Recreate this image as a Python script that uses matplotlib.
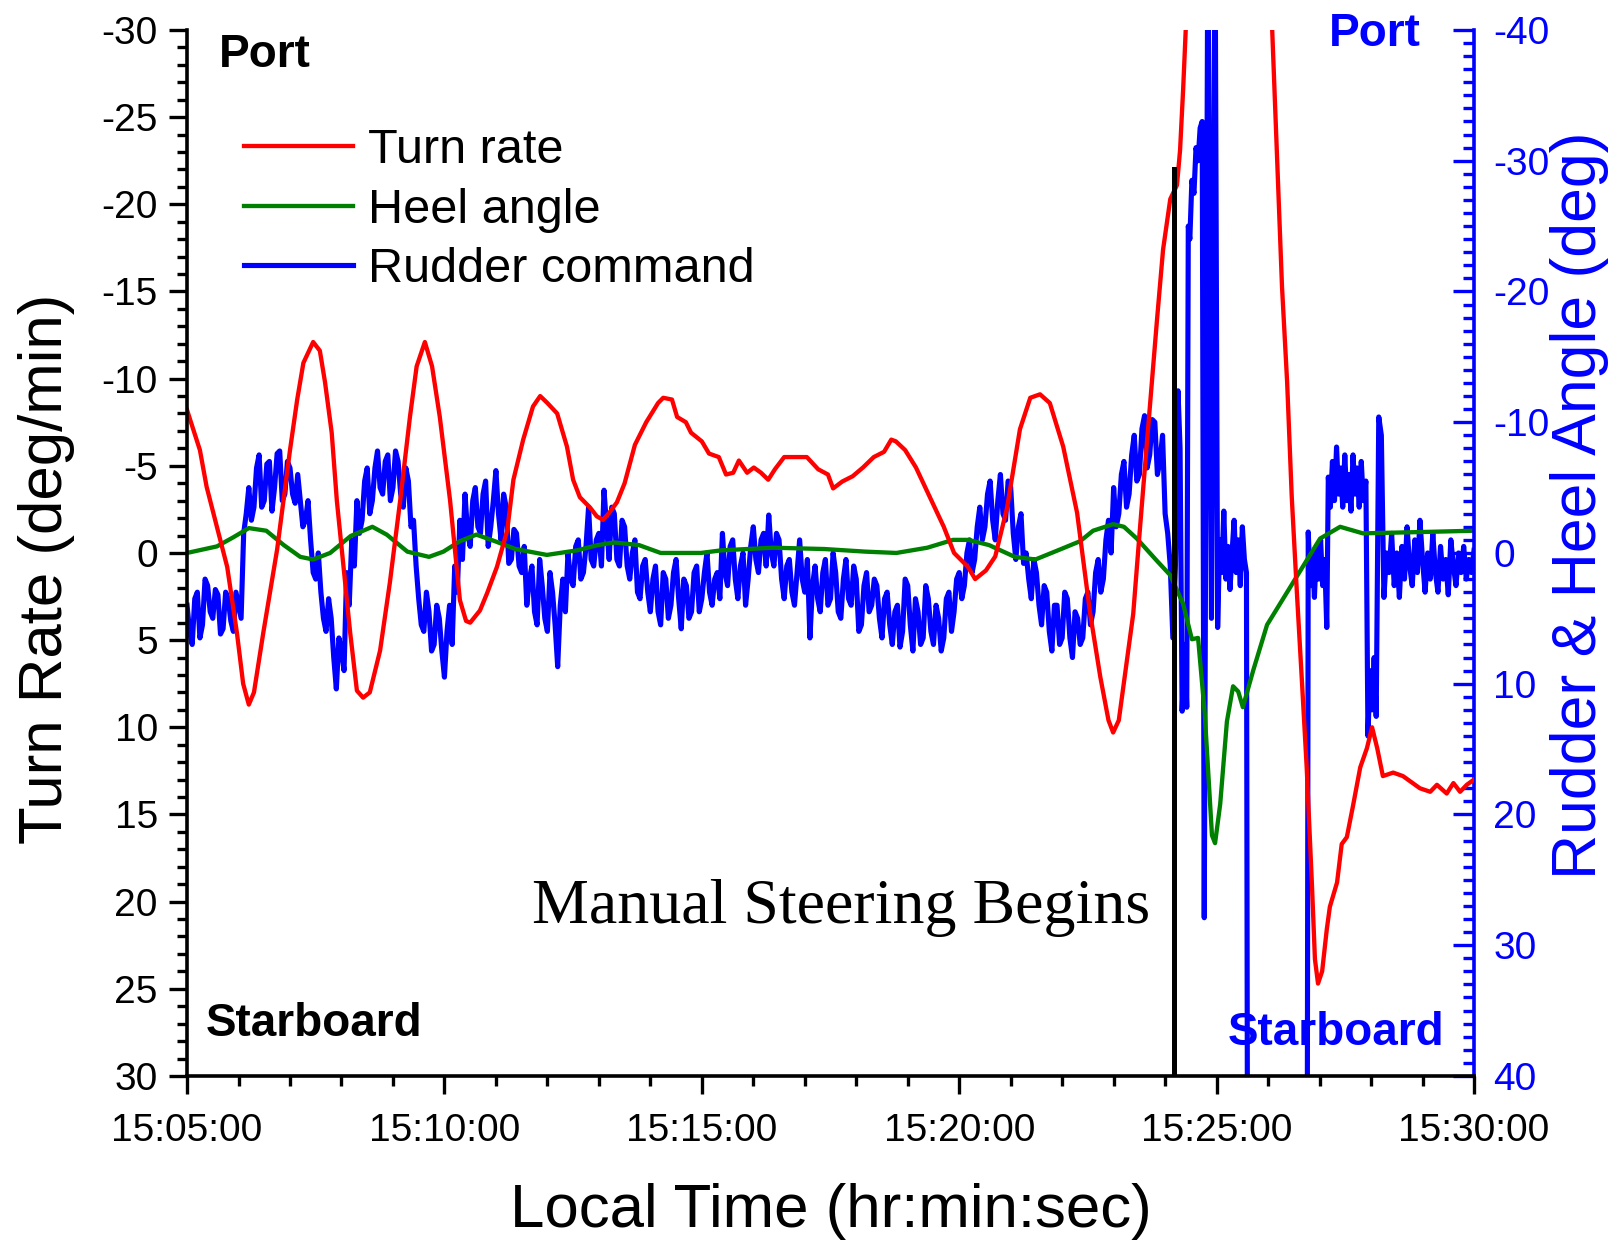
import numpy as np
import matplotlib
matplotlib.use("Agg")
import matplotlib.pyplot as plt
from matplotlib.ticker import MultipleLocator

plt.rcParams["font.family"] = "Liberation Sans"
plt.rcParams["axes.unicode_minus"] = False

# times are minutes after 15:05:00
turn_t = [0.0, 0.25, 0.38, 0.58, 0.78, 0.97, 1.09, 1.2, 1.3, 1.48, 1.75, 2.0, 2.14, 2.26,
          2.45, 2.58, 2.68, 2.81, 2.91, 3.04, 3.17, 3.3, 3.42, 3.55, 3.75, 3.94, 4.14,
          4.33, 4.46, 4.62, 4.76, 4.91, 5.11, 5.3, 5.42, 5.5, 5.69, 5.83, 6.02, 6.22,
          6.34, 6.53, 6.72, 6.86, 7.0, 7.19, 7.38, 7.5, 7.63, 7.83, 7.96, 8.08, 8.2,
          8.35, 8.5, 8.7, 8.92, 9.15, 9.25, 9.42, 9.52, 9.69, 9.79, 10.0, 10.14, 10.33,
          10.47, 10.61, 10.72, 10.88, 11.01, 11.15, 11.29, 11.42, 11.6, 11.83, 12.04,
          12.26, 12.45, 12.55, 12.73, 12.93, 13.13, 13.34, 13.54, 13.68, 13.77, 13.95,
          14.16, 14.43, 14.7, 14.9, 15.17, 15.31, 15.52, 15.7, 15.93, 16.18, 16.38,
          16.57, 16.76, 17.02, 17.29, 17.54, 17.74, 17.9, 17.99, 18.1, 18.22, 18.38,
          18.5, 18.64, 18.84, 18.96, 19.1, 19.23, 19.29, 19.35, 19.4, 19.6, 20.2, 20.8,
          21.08, 21.17, 21.27, 21.37, 21.46, 21.56, 21.66, 21.75, 21.85, 21.91, 21.97,
          22.05, 22.14, 22.2, 22.34, 22.43, 22.53, 22.65, 22.79, 22.92, 23.02, 23.12,
          23.23, 23.43, 23.62, 23.76, 23.95, 24.15, 24.28, 24.47, 24.6, 24.73, 24.86, 25.0]
turn_rate = [-8.2, -5.9, -3.8, -1.5, 0.8, 4.6, 7.5, 8.7, 8.0, 4.6, -0.2, -5.9, -8.8, -10.9,
             -12.1, -11.6, -9.8, -6.9, -3.0, 0.8, 4.6, 7.9, 8.3, 8.0, 5.6, 1.7, -3.0,
             -7.8, -10.7, -12.1, -10.7, -7.8, -3.0, 2.7, 3.9, 4.0, 3.3, 2.3, 0.8, -1.3,
             -4.2, -6.5, -8.4, -9.0, -8.6, -8.0, -6.1, -4.2, -3.2, -2.6, -2.1, -1.9, -2.3,
             -2.9, -4.0, -6.2, -7.5, -8.6, -8.9, -8.8, -7.8, -7.5, -6.9, -6.4, -5.7, -5.5,
             -4.5, -4.6, -5.3, -4.6, -4.9, -4.6, -4.2, -4.8, -5.5, -5.5, -5.5,
             -4.8, -4.5, -3.7, -4.1, -4.4, -4.9, -5.5, -5.8, -6.5, -6.4, -5.9,
             -4.9, -3.2, -1.5, 0.0, 0.8, 1.5, 1.0, 0.2, -2.6, -7.1, -8.9,
             -9.1, -8.6, -6.1, -2.3, 3.4, 7.1, 9.6, 10.3, 9.6, 7.0, 3.5,
             -1.0, -6.1, -13.3, -17.4, -20.3, -21.1, -23.1, -26.6, -30.0, -40.0, -52.0, -42.0,
             -30.0, -23.0, -15.3, -9.8, -3.2, 2.3, 7.5, 12.3, 18.9, 23.3, 24.7,
             24.0, 21.6, 20.3, 18.9, 16.7, 16.3, 14.5, 12.3, 11.2, 10.0, 11.2,
             12.8, 12.6, 12.8, 13.1, 13.5, 13.7, 13.3, 13.8, 13.2, 13.7, 13.3, 13.0]

heel_t = [0.0, 0.58, 0.9, 1.2, 1.54, 1.88, 2.2, 2.45, 2.78, 3.18, 3.6, 3.88, 4.28, 4.7,
          4.98, 5.3, 5.62, 5.98, 6.38, 6.99, 7.58, 7.98, 8.3, 8.78, 9.2, 9.98, 10.38,
          11.38, 12.38, 13.18, 13.78, 14.38, 14.88, 15.18, 15.58, 16.08, 16.48, 16.98,
          17.35, 17.6, 17.99, 18.2, 18.45, 18.84, 19.1, 19.35, 19.52, 19.64, 19.77,
          19.91, 19.97, 20.07, 20.2, 20.32, 20.42, 20.51, 20.71, 20.98, 21.23, 21.62,
          22.01, 22.4, 22.84, 23.98, 25.0]
heel = [0.0, -0.5, -1.2, -1.9, -1.7, -0.6, 0.3, 0.5, 0.0, -1.3, -2.0, -1.4, -0.1, 0.3,
        -0.1, -0.9, -1.4, -0.9, -0.3, 0.15, -0.2, -0.6, -0.8, -0.6, 0.0, 0.0, -0.2,
        -0.4, -0.3, -0.1, 0.0, -0.4, -1.0, -1.0, -0.6, 0.3, 0.5, -0.3,
        -0.9, -1.7, -2.2, -2.0, -1.1, 0.6, 1.7, 3.9, 6.6, 6.5, 12.3,
        21.6, 22.2, 19.2, 12.9, 10.2, 10.6, 11.8, 9.0, 5.5, 3.9, 1.4,
        -1.1, -2.0, -1.5, -1.6, -1.7]

# rudder command under autopilot, one reading every 3 s (15:05:00 - 15:24:06)
rudder_auto = [
    4.0, 6.0, 7.0, 3.5, 3.0, 6.5, 5.5, 2.0, 2.5, 4.5, 5.0, 2.8, 3.2, 6.2, 5.8, 3.0,
    3.5, 5.2, 6.0, 3.0, 4.0, 5.0, -1.5, -3.0, -5.0, -2.5, -3.5, -6.5, -7.5, -3.5,
    -4.0, -6.8, -7.0, -3.2, -5.0, -7.6, -7.8, -4.0, -4.5, -7.0, -6.5, -4.5, -3.8, -6.0,
    -4.0, -2.0, -2.5, -4.0, -1.0, 1.5, 2.0, 0.0, 3.0, 5.0, 6.0, 3.5, 5.0, 8.0,
    10.4, 6.5, 7.5, 9.0, 1.5, 4.0, -1.0, 1.0, -4.0, -1.5, -2.5, -5.5, -6.5, -3.0,
    -4.0, -6.5, -7.8, -5.0, -4.5, -7.0, -7.5, -4.0, -5.0, -7.8, -7.0, -4.5, -3.5, -6.5,
    -5.5, -2.0, -2.5, 1.0, 3.5, 5.5, 6.0, 3.0, 4.5, 7.5, 7.0, 4.0, 5.0, 7.5,
    9.5, 6.0, 4.0, 7.0, 1.0, 3.0, -2.5, 0.5, -4.5, -1.5, -0.5, -4.0, -5.0, -2.0,
    -1.5, -4.5, -5.5, -0.5, -2.0, -4.0, -6.3, -3.0, -1.0, -4.5, -3.5, 0.8, 0.5, -1.8,
    -1.5, 1.0, 1.5, -0.5, 4.0, 2.0, 1.0, 4.5, 5.5, 0.5, 2.5, 5.0, 6.0, 1.5,
    3.0, 5.5, 8.7, 4.0, 2.0, 4.5, 0.0, 2.0, 2.5, -0.5, -1.0, 2.0, 1.5, -0.5,
    -3.5, 0.5, 1.0, -1.0, -1.5, 1.0, -4.8, -2.0, 0.5, -3.5, -3.0, 0.5, 1.0, -2.5,
    -2.0, 1.0, 2.0, 0.0, -1.0, 3.0, 3.5, 1.0, 0.5, 3.0, 4.5, 2.0, 1.0, 4.5,
    5.5, 1.5, 2.0, 5.0, 4.0, 1.5, 0.5, 3.5, 5.8, 2.0, 2.5, 5.0, 4.5, 1.5,
    1.0, 4.5, 3.5, 1.5, 0.0, 3.0, 4.0, 2.0, 1.5, 3.5, -1.5, 1.5, 2.5, -0.5,
    -1.0, 2.0, 3.5, 1.0, 0.0, 4.0, 2.0, -0.5, -2.0, 0.5, 1.5, -1.0, -1.5, 1.0,
    -2.9, 0.0, 1.0, -1.5, -1.0, 2.0, 3.5, 1.0, 0.5, 3.0, 4.0, 1.5, -1.0, 2.0,
    3.0, 0.5, 6.5, 2.5, 1.0, 3.5, 4.5, 1.5, 0.5, 4.0, 3.5, 0.0, 1.5, 4.5,
    5.0, 2.0, 0.5, 3.5, 4.0, 1.0, 2.0, 6.0, 5.5, 2.5, 1.5, 4.5, 4.0, 2.0,
    2.5, 5.0, 6.5, 3.5, 3.0, 5.5, 7.0, 4.5, 4.0, 7.2, 6.0, 2.0, 2.5, 5.5,
    7.5, 3.5, 4.5, 7.0, 6.5, 2.5, 3.5, 6.0, 7.0, 4.0, 5.0, 7.5, 6.5, 3.5,
    3.0, 6.0, 4.5, 2.0, 1.5, 3.5, 2.5, 0.0, -1.0, 1.5, 0.5, -2.0, -3.5, -1.0,
    -2.0, -4.5, -5.5, -2.5, -1.0, -4.0, -6.0, -3.0, -2.5, -5.5, -5.0, -1.5, 0.5, -2.0,
    -3.0, 0.8, 0.0, 2.0, 3.5, 0.5, 1.5, 4.0, 5.5, 2.5, 3.0, 6.0, 7.5, 4.0,
    4.0, 7.0, 6.5, 3.0, 3.5, 6.5, 8.0, 4.5, 5.0, 7.0, 6.5, 3.5, 3.0, 5.5,
    4.5, 1.5, 0.5, 3.0, 2.0, -1.0, -2.5, 0.0, -5.0, -2.0, -3.0, -6.0, -7.0, -3.5,
    -4.5, -7.5, -9.0, -5.5, -6.0, -9.5, -10.5, -6.5, -7.5, -10.2, -10.0, -6.0, -7.0, -9.0,
    -3.0, -1.5, 1.0]
rudder_auto_t = np.round(np.arange(len(rudder_auto)) * 0.05, 2)

# rudder command after the switch to manual steering
rudder_manual_t = [19.15, 19.2, 19.25, 19.29, 19.33, 19.38, 19.42, 19.45, 19.48, 19.52,
                   19.56, 19.6, 19.64, 19.68, 19.72, 19.76, 19.83, 19.9, 19.97, 20.02,
                   20.06, 20.1, 20.14, 20.18, 20.22, 20.26, 20.3, 20.34, 20.38, 20.42,
                   20.46, 20.5, 20.54, 20.58, 20.6, 21.76, 21.78, 21.82, 21.86, 21.9,
                   21.94, 21.98, 22.02, 22.06, 22.1, 22.14, 22.17, 22.21, 22.25, 22.29,
                   22.33, 22.37, 22.41, 22.45, 22.49, 22.53, 22.57, 22.61, 22.65, 22.69,
                   22.73, 22.77, 22.81, 22.85, 22.9, 22.94, 22.98, 23.02, 23.06, 23.1,
                   23.15, 23.2, 23.25, 23.3, 23.35, 23.4, 23.45, 23.5, 23.55, 23.6, 23.65,
                   23.7, 23.75, 23.8, 23.85, 23.9, 23.95, 24.0, 24.05, 24.1, 24.15, 24.2,
                   24.25, 24.3, 24.35, 24.4, 24.45, 24.5, 24.55, 24.6, 24.65, 24.7, 24.75,
                   24.8, 24.85, 24.9, 24.95, 25.0]
rudder_manual = [6.5, 1.0, -12.4, -8.0, 12.1, 7.0, 11.8, -25.0, -24.0, -28.5,
                 -27.5, -31.0, -30.0, -32.5, -33.0, 27.9, -48.0, 5.0, -48.0, 5.7,
                 -1.0, 1.5, -3.2, 2.0, -0.5, 2.8, 0.0, -2.5, 1.5, -1.0,
                 2.5, -2.0, 0.5, 1.5, 48.0, 48.0, -1.6, 2.5, 0.0, 3.4,
                 -0.5, 2.0, -1.0, 2.5, 0.5, 5.7, -5.8, -3.5, -7.0, -4.0,
                 -8.1, -4.5, -6.5, -3.5, -7.5, -4.0, -6.0, -3.2, -7.5, -4.5,
                 -6.5, -3.5, -7.0, -4.0, -5.5, 14.0, 9.0, 12.0, 8.0, 12.5,
                 -10.4, -9.0, 3.4, 0.0, 1.5, -1.5, 2.5, 0.0, 3.4, -0.5, 2.0,
                 -2.0, 1.0, 2.5, -1.0, 1.5, -2.5, 0.5, 3.0, 0.0, 2.0, -1.5,
                 1.5, 3.0, -0.5, 2.0, 0.5, 3.2, -1.0, 1.0, 2.5, 0.0, 1.5,
                 -0.5, 2.0, 0.5, 1.5, -0.2]

rudder_t = np.concatenate([rudder_auto_t, rudder_manual_t])
rudder = np.concatenate([rudder_auto, rudder_manual])

manual_start = 19.17
marker_top = -22
time_ticks = [0, 5, 10, 15, 20, 25]
time_labels = ["15:05:00", "15:10:00", "15:15:00", "15:20:00", "15:25:00", "15:30:00"]

fig = plt.figure(figsize=(16.18, 12.43), dpi=100)
ax = fig.add_axes([0.1156, 0.1344, 0.7954, 0.8415])
ax2 = ax.twinx()
# turn rate axis drawn above the rudder/heel axis
ax.set_zorder(ax2.get_zorder() + 1)
ax.patch.set_visible(False)

l_rud, = ax2.plot(rudder_t, rudder, color="#0000ff", lw=3.7)
l_heel, = ax2.plot(heel_t, heel, color="#008000", lw=3.1)
l_turn, = ax.plot(turn_t, turn_rate, color="#ff0000", lw=3.1)
ax.plot([manual_start, manual_start], [30, marker_top], color="black", lw=3.6)

ax.set_xlim(0, 25)
ax.set_ylim(30, -30)
ax2.set_ylim(40, -40)

ax.set_xticks(time_ticks)
ax.set_xticklabels(time_labels)
ax.xaxis.set_minor_locator(MultipleLocator(1))
ax.yaxis.set_major_locator(MultipleLocator(5))
ax.yaxis.set_minor_locator(MultipleLocator(1))
ax2.yaxis.set_major_locator(MultipleLocator(10))
ax2.yaxis.set_minor_locator(MultipleLocator(1))

for s in ["top", "right"]:
    ax.spines[s].set_visible(False)
for s in ["top", "left", "bottom"]:
    ax2.spines[s].set_visible(False)
ax.spines["left"].set_linewidth(2.6)
ax.spines["bottom"].set_linewidth(2.6)
ax2.spines["right"].set_linewidth(2.6)
ax2.spines["right"].set_color("blue")

ax.tick_params(which="major", direction="out", length=13, width=2.4, labelsize=28)
ax.tick_params(axis="y", which="major", pad=8)
ax.tick_params(axis="x", which="major", pad=14)
ax.tick_params(which="minor", direction="out", length=7, width=2.4)
ax2.tick_params(axis="y", which="major", direction="in", length=15, width=2.4,
                colors="blue", labelsize=28, pad=14)
ax2.tick_params(axis="y", which="minor", direction="in", length=8, width=2.4, colors="blue")

ax.set_xlabel("Local Time (hr:min:sec)", fontsize=44.5, va="center")
ax.xaxis.set_label_coords(0.5, -0.13)
ax.set_ylabel("Turn Rate (deg/min)", fontsize=44.5, va="center", ha="center")
ax.yaxis.set_label_coords(-0.109, 0.485)
ax2.set_ylabel("Rudder & Heel Angle (deg)", fontsize=45, color="blue",
               rotation=90, va="center", ha="center")
ax2.yaxis.set_label_coords(1.082, 0.546)

ax.legend([l_turn, l_heel, l_rud], ["Turn rate", "Heel angle", "Rudder command"],
          loc="upper left", bbox_to_anchor=(0.1508, 0.897), bbox_transform=fig.transFigure,
          frameon=False, fontsize=35, handlelength=2.25, handletextpad=0.3,
          labelspacing=0.3, borderpad=0, borderaxespad=0)

fig.text(0.1354, 0.956, "Port", fontsize=33, fontweight="bold", va="center")
fig.text(0.1273, 0.1765, "Starboard", fontsize=33, fontweight="bold", va="center")
fig.text(0.8214, 0.973, "Port", fontsize=33, fontweight="bold", color="blue", va="center")
fig.text(0.759, 0.169, "Starboard", fontsize=33, fontweight="bold", color="blue", va="center")
fig.text(0.3288, 0.2695, "Manual Steering Begins", family="Liberation Serif",
         fontsize=46, va="center")

fig.savefig("out.png", dpi=100)
